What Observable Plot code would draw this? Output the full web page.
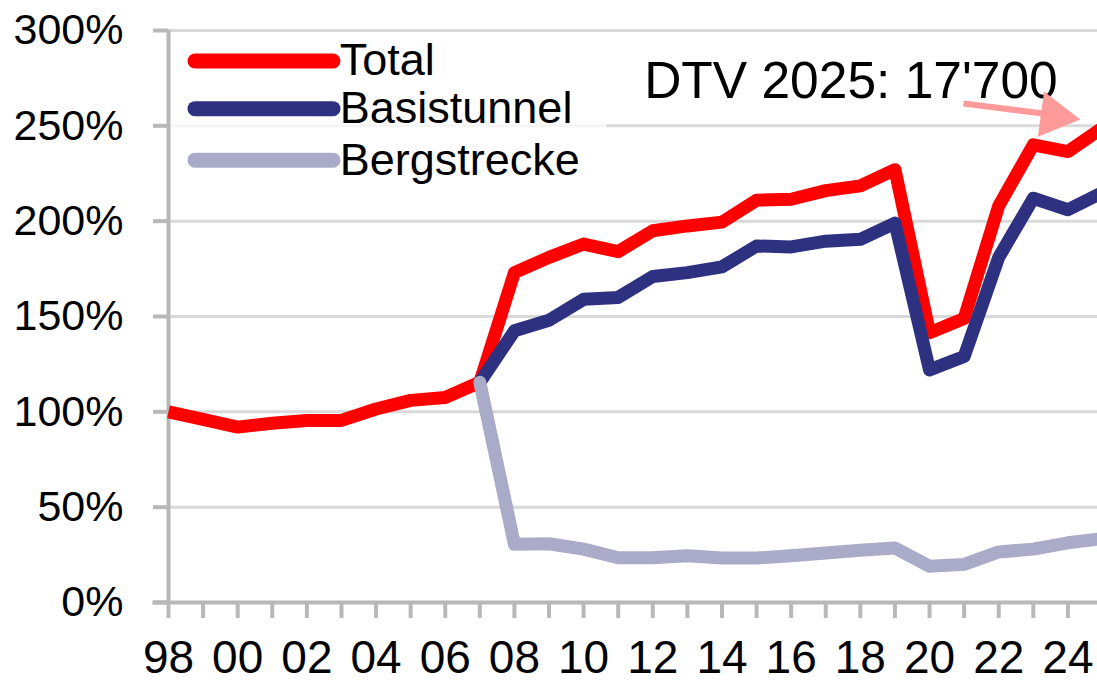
<!DOCTYPE html>
<html><head><meta charset="utf-8">
<script src="https://cdn.jsdelivr.net/npm/d3@7"></script>
<script src="https://cdn.jsdelivr.net/npm/@observablehq/plot@0.6"></script>
<style>
html,body{margin:0;padding:0;background:#fff;overflow:hidden;}
#chart svg{overflow:hidden;display:block}
</style>
</head><body><div id="chart"></div>
<script>
// ---- data ----
const years = d3.range(1998, 2026);
const total = [100, 96, 92, 94, 95.5, 95.5, 101.5, 106, 107.5, 115.5, 173, 181, 188, 184, 195, 197.5, 199.5, 211, 211.5, 216, 218.5, 227, 141.5, 149, 208, 240, 236.5, 249];
const splitYears = d3.range(2007, 2026);
const basis = [115.5, 142.5, 148, 159, 160, 171, 173, 176, 187, 186.5, 189.5, 190.5, 199, 122, 129, 181, 212, 206, 215];
const berg = [115.5, 30.5, 30.8, 28, 23.5, 23.5, 24.5, 23.3, 23.3, 24.5, 26, 27.4, 28.6, 19, 20, 26.5, 28, 31.3, 33.5];
const yTicks = [0, 50, 100, 150, 200, 250, 300];
const xLabelYears = d3.range(1998, 2025, 2);
const seriesNames = ["Total", "Basistunnel", "Bergstrecke"];
const seriesColors = ["#ff0000", "#2e3180", "#aaabc9"];
const annotation = "DTV 2025: 17'700";

// ---- tables ----
const totalRows = years.map((x, i) => ({x, y: total[i]}));
const basisRows = splitYears.map((x, i) => ({x, y: basis[i]}));
const bergRows = splitYears.map((x, i) => ({x, y: berg[i]}));
const legendY = [284, 259, 232];
const legendRows = seriesNames.map((name, i) => ({name, color: seriesColors[i], y: legendY[i]}));

const axisColor = "#b8b8b8";
const font = "'Liberation Sans', Arial, sans-serif";

const chart = Plot.plot({
  width: 1097,
  height: 683,
  marginLeft: 168,
  marginRight: -5,
  marginTop: 30,
  marginBottom: 81,
  x: {type: "linear", domain: [1998, 2025], range: [168, 1102], label: null},
  y: {type: "linear", domain: [0, 300], range: [602, 30], label: null},
  style: {fontFamily: font, color: "#000", background: "#fff"},
  marks: [
    Plot.gridY(yTicks, {stroke: "#d9d9d9", strokeOpacity: 1, strokeWidth: 3}),
    Plot.rect([0], {x1: 1998.06, x2: 2010.67, y1: 218, y2: 293, fill: "white", fillOpacity: 0.72}),
    Plot.axisY(yTicks, {label: null, tickSize: 15, tickPadding: 30, stroke: axisColor, strokeWidth: 4, strokeOpacity: 1,
      fill: "#000", fontSize: 43, tickFormat: d => d + "%"}),
    Plot.axisX(years, {label: null, tickSize: 16, stroke: axisColor, strokeWidth: 4, strokeOpacity: 1, tickFormat: () => ""}),
    Plot.axisX(xLabelYears, {label: null, tickSize: 0, tickPadding: 38, fill: "#000", fontSize: 46,
      tickFormat: d => String(d % 100).padStart(2, "0")}),
    Plot.ruleX([1998], {stroke: axisColor, strokeWidth: 4}),
    Plot.ruleY([0], {x1: 1997.55, x2: 2025, stroke: axisColor, strokeWidth: 4}),
    Plot.line(totalRows, {x: "x", y: "y", stroke: seriesColors[0], strokeWidth: 13, strokeLinejoin: "round", strokeLinecap: "butt"}),
    Plot.line(basisRows, {x: "x", y: "y", stroke: seriesColors[1], strokeWidth: 13, strokeLinejoin: "round", strokeLinecap: "round"}),
    Plot.line(bergRows, {x: "x", y: "y", stroke: seriesColors[2], strokeWidth: 13, strokeLinejoin: "round", strokeLinecap: "round"}),
    Plot.ruleY(legendRows, {y: "y", x1: 1998.78, x2: 2002.77, stroke: d => d.color, strokeWidth: 15, strokeLinecap: "round"}),
    Plot.text(legendRows, {x: 2002.95, y: "y", text: "name", textAnchor: "start", fontSize: 45, fill: "#000"}),
    Plot.text([annotation], {x: 2011.75, y: 273.5, text: d => d, textAnchor: "start", fontSize: 51.5, fill: "#000"}),
    Plot.link([0], {x1: 2020.98, y1: 261.7, x2: 2023.75, y2: 255.4, stroke: "#ff9a9a", strokeWidth: 6}),
    Plot.dot([0], {x: 2023.6, y: 255.2, symbol: "triangle", r: 17, fill: "#ff9a9a", stroke: "none", rotate: 97.8})
  ]
});
document.getElementById("chart").append(chart);
</script>
</body></html>
